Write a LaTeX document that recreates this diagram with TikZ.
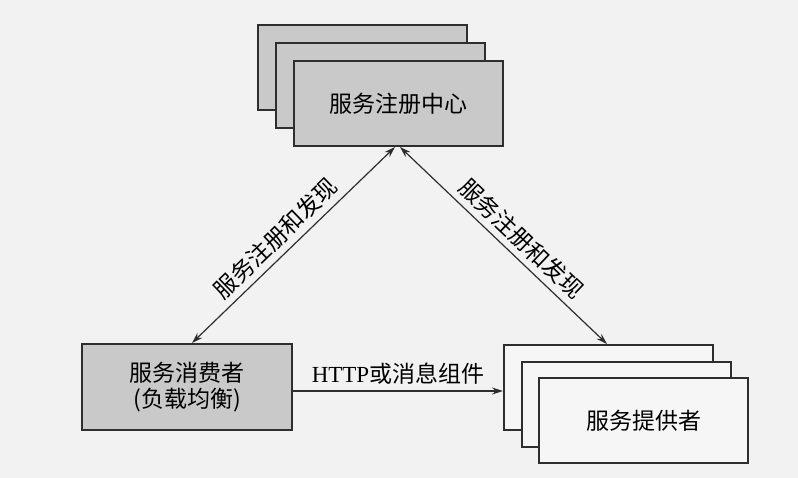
\documentclass[tikz,border=0pt]{standalone}
\usepackage{fontspec}
\setmainfont{Liberation Serif}
\newfontfamily\cjk{Noto Sans CJK SC}
\usetikzlibrary{arrows.meta}
\definecolor{boxgray}{HTML}{C9C9C9}
\definecolor{provfill}{HTML}{F6F6F6}
\definecolor{linecol}{HTML}{2E2E2E}
\definecolor{bgcol}{HTML}{F2F2F2}
\tikzset{
  graybox/.style={draw=linecol, line width=2pt, fill=boxgray, minimum width=209pt, minimum height=85pt, inner sep=0pt, font=\cjk\fontsize{23}{26}\selectfont, align=center},
  lightbox/.style={graybox, fill=provfill},
  conn/.style={draw=linecol, line width=1.2pt},
  dbl/.style={conn, {Stealth[length=11pt,width=7pt]}-{Stealth[length=11pt,width=7pt]}},
  sgl/.style={conn, -{Stealth[length=11pt,width=7pt]}},
  lbl/.style={font=\cjk\fontsize{23}{26}\selectfont, inner sep=6pt}
}
\begin{document}
\begin{tikzpicture}[x=1pt,y=-1pt]
\fill[bgcol] (0,0) rectangle (798,478);
\useasboundingbox (0,0) rectangle (798,478);
% registry stack
\node[graybox] (reg1) at (362.5,67.5) {};
\node[graybox] (reg2) at (380.5,85.5) {};
\node[graybox] (reg3) at (398.5,103.5) {服务注册中心};
% consumer
\node[graybox, minimum width=210pt, minimum height=86pt] (cons) at (187,387) {服务消费者\\(负载均衡)};
% provider stack
\node[lightbox] (prov1) at (608.5,387.5) {};
\node[lightbox] (prov2) at (626,404.5) {};
\node[lightbox] (prov3) at (643.5,420.5) {服务提供者};
% connectors
\draw[dbl] ([xshift=5pt]cons.north) -- node[lbl, sloped, above, pos=0.47] {服务注册和发现} ([xshift=-3.5pt]reg3.south);
\draw[dbl] ([xshift=1.5pt]reg3.south) -- node[lbl, sloped, above, pos=0.53] {服务注册和发现} ([xshift=-1.5pt]prov1.north);
\draw[sgl] ([yshift=-4pt]cons.east) -- node[above, inner sep=6pt, font=\fontsize{23}{26}\selectfont] {HTTP{\cjk 或消息组件}} ([yshift=-4pt]cons.east -| prov1.west);
\end{tikzpicture}
\end{document}
